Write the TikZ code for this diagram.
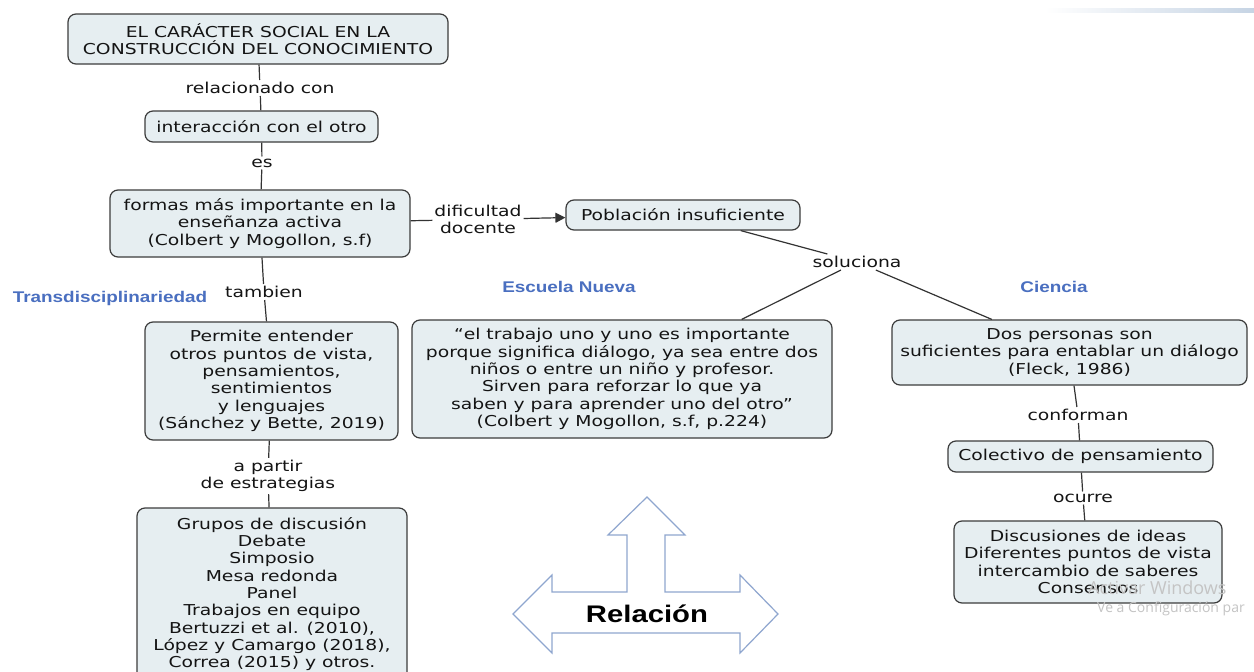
\documentclass[tikz,border=0pt]{standalone}
\usepackage{fontspec}
\setmainfont{DejaVu Sans}[FakeStretch=1.25]
\newfontfamily\headfont{Liberation Sans}[FakeStretch=1.22]
\newfontfamily\wmfont{Open Sans}
\usetikzlibrary{arrows.meta}

\definecolor{conceptfill}{HTML}{E6EEF1}
\definecolor{conceptline}{HTML}{3C3C3C}
\definecolor{linkline}{HTML}{333333}
\definecolor{textdark}{HTML}{141414}
\definecolor{topicblue}{HTML}{4A6FC0}
\definecolor{arrowline}{HTML}{8FA6CF}
\definecolor{wmgray}{HTML}{C4C4C4}
\definecolor{barblue}{HTML}{C6D4E4}

\tikzset{
  concept/.style={draw=conceptline, fill=conceptfill, rounded corners=8pt,
    line width=1.2pt, align=center, inner sep=0pt, text=textdark,
    font=\fontsize{15}{17.3}\selectfont},
  linklabel/.style={inner sep=2pt, align=center, text=textdark,
    font=\fontsize{15}{17.3}\selectfont},
  link/.style={draw=linkline, line width=1.2pt},
  topic/.style={text=topicblue, font=\headfont\bfseries\fontsize{15.5}{18}\selectfont},
}

\begin{document}
\begin{tikzpicture}[x=1pt,y=-1pt]
\useasboundingbox (0,0) rectangle (1254,672);
\clip (0,0) rectangle (1254,672);
\fill[white] (0,0) rectangle (1254,672);

% faint bar in the upper right corner
\shade[left color=white, right color=barblue] (1045,8) rectangle (1254,12);

% ---- concepts ----
\node[concept, minimum width=380pt, minimum height=50pt] (social) at (258,39)
  {EL CARÁCTER SOCIAL EN LA\\CONSTRUCCIÓN DEL CONOCIMIENTO};
\node[concept, minimum width=233pt, minimum height=31pt] (inter) at (261.5,126.5)
  {interacción con el otro};
\node[concept, minimum width=300pt, minimum height=67pt] (formas) at (260,223.5)
  {formas más importante en la\\enseñanza activa\\(Colbert y Mogollon, s.f)};
\node[concept, minimum width=234pt, minimum height=30pt] (pobl) at (683,215)
  {Población insuficiente};
\node[concept, minimum width=253pt, minimum height=118pt] (permite) at (271.5,381)
  {Permite entender\\otros puntos de vista,\\pensamientos,\\sentimientos\\y lenguajes\\(Sánchez y Bette, 2019)};
\node[concept, minimum width=270pt, minimum height=172pt] (grupos) at (272,594)
  {Grupos de discusión\\Debate\\Simposio\\Mesa redonda\\Panel\\Trabajos en equipo\\Bertuzzi et al. (2010),\\López y Camargo (2018),\\Correa (2015) y otros.};
\node[concept, minimum width=420pt, minimum height=118pt] (quote) at (622,379)
  {“el trabajo uno y uno es importante\\porque significa diálogo, ya sea entre dos\\niños o entre un niño y profesor.\\Sirven para reforzar lo que ya\\saben y para aprender uno del otro”\\(Colbert y Mogollon, s.f, p.224)};
\node[concept, minimum width=355pt, minimum height=65pt] (dos) at (1069.5,352.5)
  {Dos personas son\\suficientes para entablar un diálogo\\(Fleck, 1986)};
\node[concept, minimum width=265pt, minimum height=31pt] (colect) at (1080.5,456.5)
  {Colectivo de pensamiento};
\node[concept, minimum width=268pt, minimum height=82pt] (disc) at (1088,562)
  {Discusiones de ideas\\Diferentes puntos de vista\\intercambio de saberes\\Consensos};

% ---- link labels ----
\node[linklabel] (lrel) at (260,88) {relacionado con};
\node[linklabel] (les) at (262,163) {es};
\node[linklabel] (ltam) at (264,292) {tambien};
\node[linklabel] (lpartir) at (268,476) {a partir\\de estrategias};
\node[linklabel] (ldif) at (478,219.5) {dificultad\\docente};
\node[linklabel] (lsol) at (857,262) {soluciona};
\node[linklabel] (lconf) at (1078,415) {conforman};
\node[linklabel] (locu) at (1083,498) {ocurre};

% ---- connectors ----
\draw[link] (social) -- (lrel) -- (inter);
\draw[link] (inter) -- (les) -- (formas);
\draw[link] (formas) -- (ltam) -- (permite);
\draw[link] (permite) -- (lpartir) -- (grupos);
\draw[link] (formas) -- (ldif);
\draw[link, -{Triangle[length=10pt,width=10pt]}] (ldif) -- (pobl);
\draw[link] (pobl) -- (lsol);
\draw[link] (lsol) -- (quote);
\draw[link] (lsol) -- (dos);
\draw[link] (dos) -- (lconf) -- (colect);
\draw[link] (colect) -- (locu) -- (disc);

% ---- topic headings ----
\node[topic] (ttrans) at (110,298) {Transdisciplinariedad};
\node[topic] (tescuela) at (569,287) {Escuela Nueva};
\node[topic] (tciencia) at (1054,287) {Ciencia};

% ---- three-way arrow ----
\draw[draw=arrowline, fill=white, line width=1.2pt, line join=miter]
  (647,497) -- (685,535) -- (665,535) -- (665,592) -- (740,592) -- (740,575)
  -- (778,614) -- (740,653) -- (740,633) -- (552,633) -- (552,653)
  -- (513,614) -- (552,575) -- (552,592) -- (627,592) -- (627,535)
  -- (608,535) -- cycle;
\node[text=black, font=\headfont\bfseries\fontsize{24}{28}\selectfont,
  inner sep=0pt] (relacion) at (647,614) {Relación};

% ---- system watermark ----
\node[anchor=west, inner sep=0pt, text=wmgray, font=\wmfont\fontsize{18}{20}\selectfont]
  (wm1) at (1088,588) {Activar Windows};
\node[anchor=west, inner sep=0pt, text=wmgray, font=\wmfont\fontsize{14}{16}\selectfont]
  (wm2) at (1097,609) {Ve a Configuración par};
\end{tikzpicture}
\end{document}
